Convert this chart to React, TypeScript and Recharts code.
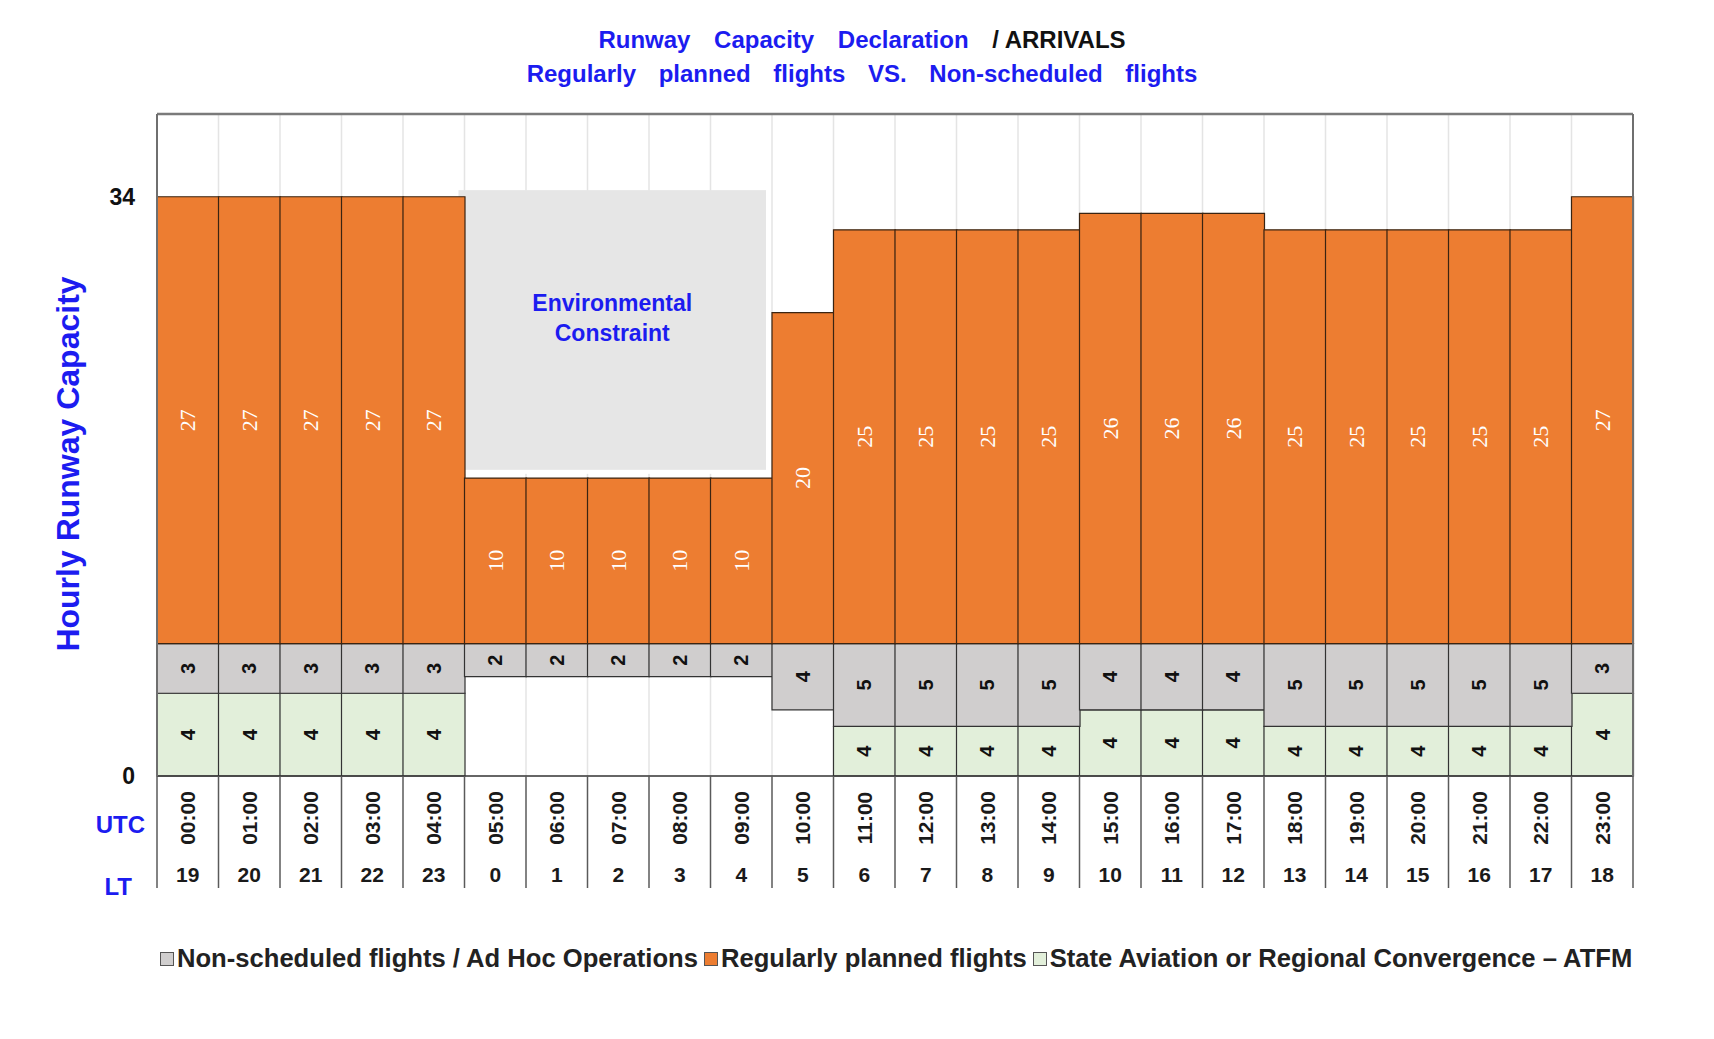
import React from "react";
import {
  BarChart,
  Bar,
  XAxis,
  YAxis,
  CartesianGrid,
  ReferenceArea,
  ReferenceLine,
  LabelList,
  Legend,
} from "recharts";

const hoursUtc = [
  "00:00", "01:00", "02:00", "03:00", "04:00", "05:00", "06:00", "07:00",
  "08:00", "09:00", "10:00", "11:00", "12:00", "13:00", "14:00", "15:00",
  "16:00", "17:00", "18:00", "19:00", "20:00", "21:00", "22:00", "23:00",
];
const hoursLt = [
  "19", "20", "21", "22", "23", "0", "1", "2", "3", "4", "5", "6",
  "7", "8", "9", "10", "11", "12", "13", "14", "15", "16", "17", "18",
];
// drawn heights of the green block (the printed label is always 4)
const stateAviation = [5, 5, 5, 5, 5, 0, 0, 0, 0, 0, 0, 3, 3, 3, 3, 4, 4, 4, 3, 3, 3, 3, 3, 5];
const stateAviationLabels = [
  "4", "4", "4", "4", "4", "", "", "", "", "", "", "4",
  "4", "4", "4", "4", "4", "4", "4", "4", "4", "4", "4", "4",
];
// empty space left under the grey block during the night hours
const blankSlot = [0, 0, 0, 0, 0, 6, 6, 6, 6, 6, 4, 0, 0, 0, 0, 0, 0, 0, 0, 0, 0, 0, 0, 0];
const nonScheduled = [3, 3, 3, 3, 3, 2, 2, 2, 2, 2, 4, 5, 5, 5, 5, 4, 4, 4, 5, 5, 5, 5, 5, 3];
const regularlyPlanned = [27, 27, 27, 27, 27, 10, 10, 10, 10, 10, 20, 25, 25, 25, 25, 26, 26, 26, 25, 25, 25, 25, 25, 27];
const yTicks = [0, 35];
const yTickLabels = ["0", "34"];

const BLUE = "#1c1cf0";
const ORANGE = "#ED7D31";
const GREY = "#D0CECE";
const GREEN = "#E2EFDA";
const SANS = "'Liberation Sans', Arial, sans-serif";

const legendItems = [
  { name: "Non-scheduled flights / Ad Hoc Operations", color: GREY },
  { name: "Regularly planned flights", color: ORANGE },
  { name: "State Aviation or Regional Convergence \u2013 ATFM", color: GREEN },
];

const data = hoursUtc.map((utc, i) => ({
  utc,
  state: stateAviation[i],
  stateLabel: stateAviationLabels[i],
  blank: blankSlot[i],
  nonSched: nonScheduled[i],
  regular: regularlyPlanned[i],
}));

const barLabel =
  (fill: string, family: string, weight: number, size: number) =>
  (props: any) => {
    const { x, y, width, height, value } = props;
    if (!value) return null;
    const cx = Number(x) + Number(width) / 2;
    const cy = Number(y) + Number(height) / 2;
    return (
      <text
        x={cx}
        y={cy}
        transform={`rotate(-90 ${cx} ${cy})`}
        textAnchor="middle"
        dominantBaseline="central"
        fill={fill}
        fontFamily={family}
        fontWeight={weight}
        fontSize={size}
      >
        {String(value)}
      </text>
    );
  };

function HourTick(props: any) {
  const { x, y, payload } = props;
  const i = payload.index ?? props.index;
  const half = payload.offset || 30.75;
  const ty = y + 42;
  return (
    <g>
      <line x1={x - half} x2={x - half} y1={y} y2={y + 112} stroke="#5a5a5a" strokeWidth={1.5} />
      {i === hoursUtc.length - 1 && (
        <line x1={x + half} x2={x + half} y1={y} y2={y + 112} stroke="#5a5a5a" strokeWidth={1.5} />
      )}
      <text
        x={x}
        y={ty}
        transform={`rotate(-90 ${x} ${ty})`}
        textAnchor="middle"
        dominantBaseline="central"
        fontFamily={SANS}
        fontWeight={700}
        fontSize={21}
        fill="#1a1a1a"
      >
        {payload.value}
      </text>
      <text x={x} y={y + 98} textAnchor="middle" dominantBaseline="central" fontFamily={SANS} fontWeight={700} fontSize={21} fill="#1a1a1a">
        {hoursLt[i]}
      </text>
      {i === 0 && (
        <g fontFamily={SANS} fontWeight={700} fontSize={24} fill={BLUE}>
          <text x={x - half - 12} y={y + 48} textAnchor="end" dominantBaseline="central">UTC</text>
          <text x={x - half - 25} y={y + 110} textAnchor="end" dominantBaseline="central">LT</text>
        </g>
      )}
    </g>
  );
}

function EnvBox(props: any) {
  const x = Number(props.x) - 6;
  const y = Number(props.y);
  const w = Number(props.width);
  const h = Number(props.height);
  const cx = x + w / 2;
  const cy = y + h / 2;
  return (
    <g>
      <rect x={x + 4} y={y + 4} width={w} height={h} fill="#ffffff" />
      <rect x={x} y={y} width={w} height={h} fill="#E6E6E6" />
      <g fontFamily={SANS} fontWeight={700} fontSize={23} fill={BLUE} textAnchor="middle">
        <text x={cx} y={cy - 27} dominantBaseline="central">Environmental</text>
        <text x={cx} y={cy + 3} dominantBaseline="central">Constraint</text>
      </g>
    </g>
  );
}

function YTitle(props: any) {
  const vb = props.viewBox || { x: 97, y: 114, width: 60, height: 662 };
  const cx = vb.x - 29;
  const cy = vb.y + vb.height / 2 + 19;
  return (
    <text
      x={cx}
      y={cy}
      transform={`rotate(-90 ${cx} ${cy})`}
      textAnchor="middle"
      dominantBaseline="central"
      fontFamily={SANS}
      fontWeight={700}
      fontSize={32}
      fill={BLUE}
    >
      Hourly Runway Capacity
    </text>
  );
}

function LegendContent() {
  return (
    <div
      style={{
        display: "flex",
        alignItems: "center",
        fontFamily: SANS,
        fontWeight: 700,
        fontSize: 25.6,
        color: "#222",
        whiteSpace: "nowrap",
      }}
    >
      {legendItems.map((item) => (
        <span key={item.name} style={{ display: "flex", alignItems: "center", marginRight: 6 }}>
          <span
            style={{
              display: "inline-block",
              width: 12,
              height: 12,
              background: item.color,
              border: "1.5px solid #555",
              marginRight: 3,
            }}
          />
          {item.name}
        </span>
      ))}
    </div>
  );
}

export default function App() {
  return (
    <div style={{ position: "absolute", left: 0, top: 0, width: 1714, height: 1039, background: "#fff" }}>
      <div
        style={{
          position: "absolute",
          left: 0,
          width: 1724,
          top: 25,
          textAlign: "center",
          fontFamily: SANS,
          fontWeight: 700,
          fontSize: 24,
          lineHeight: "30px",
          wordSpacing: 17,
          color: BLUE,
          whiteSpace: "nowrap",
        }}
      >
        <div>
          Runway Capacity Declaration{" "}
          <span style={{ color: "#111", wordSpacing: 0 }}>/ ARRIVALS</span>
        </div>
        <div style={{ marginTop: 4, wordSpacing: 16 }}>Regularly planned flights VS. Non-scheduled flights</div>
      </div>
      <BarChart
        width={1714}
        height={1039}
        data={data}
        margin={{ top: 114, right: 80, bottom: 151, left: 97 }}
        barCategoryGap={0}
      >
        <CartesianGrid
          horizontal={false}
          stroke="#e4e4e4"
          strokeWidth={1.5}
          verticalCoordinatesGenerator={({ offset }: any) =>
            hoursUtc.map((_, i) => offset.left + (i * offset.width) / hoursUtc.length)
          }
        />
        <XAxis
          dataKey="utc"
          interval={0}
          height={112}
          tickLine={false}
          tickSize={0}
          tickMargin={0}
          axisLine={{ stroke: "#333", strokeWidth: 1.5 }}
          tick={<HourTick />}
        />
        <YAxis
          width={60}
          domain={[0, 40]}
          ticks={yTicks}
          interval={0}
          tickLine={false}
          tickSize={0}
          tickMargin={22}
          axisLine={{ stroke: "#6f6f6f", strokeWidth: 2 }}
          tick={{ fontFamily: SANS, fontWeight: 700, fontSize: 23, fill: "#111" }}
          tickFormatter={(v: number) => yTickLabels[yTicks.indexOf(v)]}
          label={{ content: YTitle }}
        />
        <YAxis
          yAxisId="right"
          orientation="right"
          width={1}
          domain={[0, 40]}
          tick={false}
          tickLine={false}
          axisLine={{ stroke: "#6f6f6f", strokeWidth: 2 }}
        />
        <ReferenceLine y={40} stroke="#7a7a7a" strokeWidth={2.5} />
        <Bar dataKey="state" stackId="a" fill={GREEN} stroke="#333" strokeWidth={1.2} isAnimationActive={false}>
          <LabelList dataKey="stateLabel" content={barLabel("#111", SANS, 700, 20)} />
        </Bar>
        <Bar dataKey="blank" stackId="a" fill="transparent" stroke="none" isAnimationActive={false} />
        <Bar dataKey="nonSched" stackId="a" fill={GREY} stroke="#333" strokeWidth={1.2} isAnimationActive={false}>
          <LabelList dataKey="nonSched" content={barLabel("#111", SANS, 700, 20)} />
        </Bar>
        <Bar dataKey="regular" stackId="a" fill={ORANGE} stroke="#3a2412" strokeWidth={1.2} isAnimationActive={false}>
          <LabelList dataKey="regular" content={barLabel("#ffffff", "'Liberation Serif', 'Times New Roman', serif", 400, 22)} />
        </Bar>
        <ReferenceArea x1="05:00" x2="09:00" y1={18.5} y2={35.4} shape={<EnvBox />} />
        <Legend
          layout="horizontal"
          verticalAlign="middle"
          align="center"
          content={<LegendContent />}
          wrapperStyle={{ position: "absolute", left: 160, top: 944, width: 1560 }}
        />
      </BarChart>
    </div>
  );
}
